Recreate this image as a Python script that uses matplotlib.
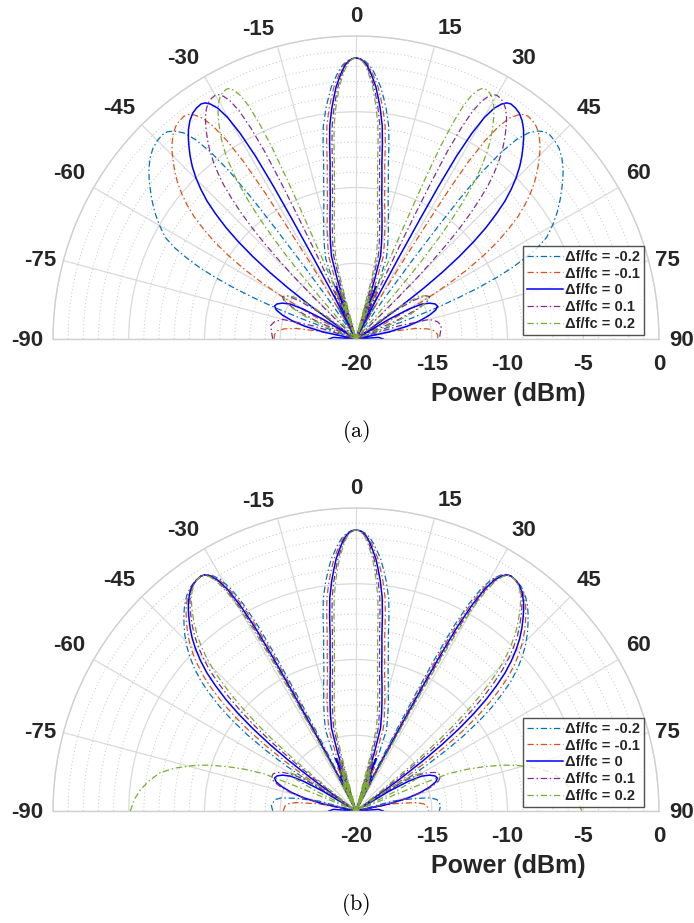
import numpy as np
import matplotlib
matplotlib.use("Agg")
import matplotlib.pyplot as plt
from matplotlib.ticker import MultipleLocator

# ---------------- data (half patterns from 0 to 90 deg, mirrored) ----------------
labels = ["\u0394f/fc = -0.2", "\u0394f/fc = -0.1", "\u0394f/fc = 0",
          "\u0394f/fc = 0.1", "\u0394f/fc = 0.2"]
colors = ["#0072BD", "#D95319", "#0000FF", "#7E2F8E", "#77AC30"]
solid = [False, False, True, False, False]

theta_ticks = list(range(-90, 91, 15))
r_ticks = [-20, -15, -10, -5, 0]

# ---- centre lobe (same in both panels) ----
center_db = [-1.45, -1.5, -1.65, -1.9, -2.3, -2.8, -3.3, -4.0, -4.7, -5.8, -7.0, -8.3, -9.4, -10.5,
             -11.6, -12.6, -13.5, -14.3, -16, -20]
center_ang_m02 = [0, 1.0, 1.88, 2.81, 3.75, 4.69, 5.63, 6.56, 7.5, 8.75, 9.63, 10.5, 11.63, 12.88,
                  14.75, 16.75, 18.75, 20.63, 21.88, 22.75]
center_ang_m01 = [0, 0.89, 1.67, 2.5, 3.33, 4.17, 5.0, 5.83, 6.67, 7.78, 8.56, 9.33, 10.33, 11.44,
                  13.11, 14.89, 16.67, 18.33, 19.44, 20.22]
center_ang_0 = [0, 0.8, 1.5, 2.25, 3.0, 3.75, 4.5, 5.25, 6.0, 7.0, 7.7, 8.4, 9.3, 10.3,
                11.8, 13.4, 15.0, 16.5, 17.5, 18.2]
center_ang_p01 = [0, 0.73, 1.36, 2.05, 2.73, 3.41, 4.09, 4.77, 5.45, 6.36, 7.0, 7.64, 8.45, 9.36,
                  10.73, 12.18, 13.64, 15.0, 15.91, 16.55]
center_ang_p02 = [0, 0.67, 1.25, 1.88, 2.5, 3.13, 3.75, 4.38, 5.0, 5.83, 6.42, 7.0, 7.75, 8.58,
                  9.83, 11.17, 12.5, 13.75, 14.58, 15.17]

# ---- small lobes between the centre lobe and the side lobe ----
a_gap_ang_m02 = [25, 26.5, 28.2, 30, 32]
a_gap_db_m02 = [-20, -16.8, -20, -17.5, -20]
a_gap_ang_m01 = [21.8, 23.3, 24.8, 26.5, 28.2]
a_gap_db_m01 = [-20, -16.5, -20, -17.5, -20]
a_gap_ang_0 = [19.5, 20.8, 22.2, 23.8, 25.3]
a_gap_db_0 = [-20, -16.3, -20, -17.5, -20]
a_gap_ang_p01 = [17.6, 18.8, 20, 21.4, 22.8]
a_gap_db_p01 = [-20, -16.5, -20, -17.5, -20]
a_gap_ang_p02 = [16.1, 17.2, 18.3, 19.6, 20.8]
a_gap_db_p02 = [-20, -16.5, -20, -17.5, -20]

b_gap_ang_m02 = [23.9, 24.5]
b_gap_db_m02 = [-17.8, -20]
b_gap_ang_m01 = [21.5, 22.7, 24, 24.9]
b_gap_db_m01 = [-20, -16.8, -20, -18]
b_gap_ang_0 = a_gap_ang_0
b_gap_db_0 = a_gap_db_0
b_gap_ang_p01 = [17.6, 18.8, 20, 21.4, 22.8, 24.3, 25.8]
b_gap_db_p01 = [-20, -16.5, -20, -17.2, -20, -17.8, -20]
b_gap_ang_p02 = [16.1, 17.2, 18.3, 19.6, 20.8, 22.2, 23.6, 25, 26.3]
b_gap_db_p02 = [-20, -16.5, -20, -17, -20, -17.5, -20, -18, -20]

# ---- main side lobe: level profile shared, angles per series ----
side_db = [-20, -17, -14, -11, -8.5, -6.2, -4.4, -3.1, -2.25, -1.75, -1.5, -1.42,
           -1.47, -1.61, -1.9, -2.31, -2.75, -3.2, -3.7, -4.3, -5.0, -5.75, -6.6, -7.6,
           -8.7, -9.9, -11.3, -12.8, -14.4, -16.2, -18, -20]

# panel (a): beams squint with frequency
a_side_m02 = [33.9, 34.71, 35.52, 36.07, 36.48, 37.03, 37.86, 38.82, 39.93, 41.21, 42.34, 43.48,
              45.05, 46.77, 48.66, 50.61, 52.33, 53.94, 55.74, 57.78, 59.92, 61.98, 63.3, 64.4,
              65.5, 66.4, 67.3, 68.1, 68.9, 69.5, 70.0, 70.5]
a_side_m01 = [29.72, 30.41, 31.09, 31.56, 31.9, 32.36, 33.05, 33.86, 34.79, 35.85, 36.78, 37.71,
              38.97, 40.37, 41.86, 43.37, 44.69, 45.89, 47.22, 48.67, 50.14, 51.53, 52.92, 54.23,
              55.55, 56.76, 58.01, 59.16, 60.19, 61.12, 61.91, 62.61]
a_side_0 = [26.5, 27.1, 27.7, 28.1, 28.4, 28.8, 29.4, 30.1, 30.9, 31.8, 32.6, 33.4,
            34.6, 35.9, 37.3, 38.7, 39.9, 41.0, 42.2, 43.5, 44.8, 46.0, 47.2, 48.3,
            49.4, 50.4, 51.4, 52.3, 53.1, 53.8, 54.4, 54.9]
a_side_p01 = [23.93, 24.47, 24.99, 25.35, 25.62, 25.98, 26.51, 27.12, 27.83, 28.63, 29.33, 30.03,
              30.98, 32.0, 33.09, 34.18, 35.11, 35.96, 36.87, 37.87, 38.85, 39.76, 40.66, 41.48,
              42.29, 43.03, 43.76, 44.4, 44.98, 45.47, 45.9, 46.25]
a_side_p02 = [21.83, 22.31, 22.79, 23.11, 23.35, 23.67, 24.15, 24.7, 25.33, 26.05, 26.68, 27.31,
              28.15, 29.06, 30.03, 30.99, 31.81, 32.57, 33.37, 34.24, 35.1, 35.88, 36.65, 37.36,
              38.07, 38.69, 39.31, 39.86, 40.34, 40.77, 41.13, 41.41]

# panel (b): beams keep their direction, only the width changes
b_side_m02 = [25.12, 25.84, 26.56, 27.04, 27.4, 27.88, 28.6, 29.44, 30.4, 31.48, 32.44, 33.4,
              34.84, 36.4, 38.08, 39.76, 41.2, 42.52, 43.96, 45.52, 47.08, 48.52, 49.96, 51.28,
              52.6, 53.8, 55.0, 56.08, 57.04, 57.88, 58.6, 59.2]
b_side_m01 = [25.81, 26.47, 27.13, 27.57, 27.9, 28.34, 29.0, 29.77, 30.65, 31.64, 32.52, 33.4,
              34.72, 36.15, 37.69, 39.23, 40.55, 41.76, 43.08, 44.51, 45.94, 47.26, 48.58, 49.79,
              51.0, 52.1, 53.2, 54.19, 55.07, 55.84, 56.5, 57.05]
b_side_0 = a_side_0
b_side_p01 = [27.05, 27.6, 28.16, 28.52, 28.8, 29.17, 29.72, 30.36, 31.1, 31.93, 32.66, 33.4,
              34.5, 35.7, 36.99, 38.28, 39.38, 40.39, 41.5, 42.69, 43.89, 44.99, 46.1, 47.11,
              48.12, 49.04, 49.96, 50.79, 51.52, 52.17, 52.72, 53.18]
b_side_p02 = [27.53, 28.04, 28.55, 28.89, 29.15, 29.49, 30.0, 30.59, 31.27, 32.04, 32.72, 33.4,
              34.42, 35.53, 36.72, 37.91, 38.93, 39.86, 40.88, 41.99, 43.09, 44.11, 45.13, 46.07,
              47.0, 47.85, 48.7, 49.47, 50.15, 50.74, 51.25, 51.68]

# ---- low lobes towards end-fire ----
a_tail_ang_m02 = []
a_tail_db_m02 = []
a_tail_ang_m01 = [76, 78, 80, 82, 84, 87, 90]
a_tail_db_m01 = [-20, -17.5, -16, -15.2, -14.8, -14.6, -14.6]
a_tail_ang_0 = [57.5, 59, 60.5, 62, 64, 66, 68, 70, 72, 74, 76, 78, 79.5, 83, 86, 90]
a_tail_db_0 = [-20, -17.5, -16, -15.1, -14.6, -14.3, -14.2, -14.4, -14.9, -15.6, -16.5, -17.8, -20,
               -20, -18.5, -18.2]
a_tail_ang_p01 = [52, 54, 56, 58, 60, 62, 64, 65.5, 67, 71, 73, 75, 78, 81, 85, 90]
a_tail_db_p01 = [-20, -17, -15.5, -14.6, -14.4, -14.6, -15.5, -17, -20, -20, -17, -15, -14.5, -14.3,
                 -14.4, -14.5]
a_tail_ang_p02 = [50, 52, 54, 56, 58, 60, 62, 64, 66, 67.5, 69]
a_tail_db_p02 = [-20, -17.5, -16, -15, -14.6, -14.5, -14.7, -15.3, -16.3, -17.8, -20]

b_tail_ang_m02 = [72, 75, 78, 80, 82, 86, 90]
b_tail_db_m02 = [-20, -17.5, -16, -15, -14.6, -14.4, -14.5]
b_tail_ang_m01 = [76, 79, 82, 84, 86, 90]
b_tail_db_m01 = [-20, -17.5, -16, -15.5, -15.3, -15.2]
b_tail_ang_0 = a_tail_ang_0
b_tail_db_0 = a_tail_db_0
b_tail_ang_p01 = [55.5, 57, 58.5, 60, 62, 64, 66, 68, 70, 72, 74, 76, 77.5, 79]
b_tail_db_p01 = [-20, -17.5, -16, -15.2, -14.6, -14.2, -14.0, -14.0, -14.2, -14.7, -15.4, -16.4, -17.8, -20]
b_tail_ang_p02 = [54, 56, 58, 60, 62, 63.5, 65, 67, 67.3, 67.7, 68, 69.5, 71, 72.7, 74.4, 76.7, 79,
                  81.7, 84.4, 87, 90]
b_tail_db_p02 = [-20, -17, -15.6, -15, -15.4, -17, -20, -20, -17, -15, -13.4, -12.1, -11, -9.8, -8.85,
                 -7.7, -6.8, -6.2, -5.7, -5.35, -5.1]

center_angs = [center_ang_m02, center_ang_m01, center_ang_0, center_ang_p01, center_ang_p02]
a_gap_angs = [a_gap_ang_m02, a_gap_ang_m01, a_gap_ang_0, a_gap_ang_p01, a_gap_ang_p02]
a_gap_dbs = [a_gap_db_m02, a_gap_db_m01, a_gap_db_0, a_gap_db_p01, a_gap_db_p02]
b_gap_angs = [b_gap_ang_m02, b_gap_ang_m01, b_gap_ang_0, b_gap_ang_p01, b_gap_ang_p02]
b_gap_dbs = [b_gap_db_m02, b_gap_db_m01, b_gap_db_0, b_gap_db_p01, b_gap_db_p02]
a_sides = [a_side_m02, a_side_m01, a_side_0, a_side_p01, a_side_p02]
b_sides = [b_side_m02, b_side_m01, b_side_0, b_side_p01, b_side_p02]
a_tail_angs = [a_tail_ang_m02, a_tail_ang_m01, a_tail_ang_0, a_tail_ang_p01, a_tail_ang_p02]
a_tail_dbs = [a_tail_db_m02, a_tail_db_m01, a_tail_db_0, a_tail_db_p01, a_tail_db_p02]
b_tail_angs = [b_tail_ang_m02, b_tail_ang_m01, b_tail_ang_0, b_tail_ang_p01, b_tail_ang_p02]
b_tail_dbs = [b_tail_db_m02, b_tail_db_m01, b_tail_db_0, b_tail_db_p01, b_tail_db_p02]


def full_pattern(ang_half, db_half):
    a = np.asarray(ang_half, float)
    d = np.asarray(db_half, float)
    th = np.concatenate([-a[::-1], a[1:]])
    r = np.concatenate([d[::-1], d[1:]])
    return np.deg2rad(th), np.maximum(r, -20)


# ---------------- figure ----------------
plt.rcParams['font.family'] = ['Liberation Sans', 'DejaVu Sans']
plt.rcParams['mathtext.fontset'] = 'cm'

W, H = 694, 923
fig = plt.figure(figsize=(W / 100, H / 100), dpi=100)
CX, RAD = 356, 303
PX = 0.72  # points per pixel

GRID = '#dadada'
DASH = (5, 2.2, 1.2, 2.2)

theta_label_off = {0: (0, 21), 15: (16, 20), -15: (-19, 19), 30: (16.5, 20), -30: (-21.5, 20),
                   45: (19, 18), -45: (-23, 18), 60: (20, 16), -60: (-24, 15.5),
                   75: (19, 2), -75: (-23, 2), 90: (23, 0), -90: (-26, 0)}


def make_panel(cy, curves, tag):
    box_cy = cy - RAD / 2
    ax = fig.add_axes([(CX - RAD) / W, (H - box_cy - RAD) / H, 2 * RAD / W, 2 * RAD / H],
                      projection='polar')
    ax.set_theta_zero_location('N')
    ax.set_theta_direction(-1)
    ax.set_thetamin(-90)
    ax.set_thetamax(90)
    ax.set_rlim(-20, 0)
    ax.set_xticks(np.deg2rad(theta_ticks))
    ax.set_yticks(r_ticks)
    ax.yaxis.set_minor_locator(MultipleLocator(1))
    ax.set_xticklabels([])
    ax.set_yticklabels([])
    ax.tick_params(which='both', length=0)
    ax.xaxis.grid(True, color=GRID, lw=0.9)
    ax.yaxis.grid(True, which='major', color=GRID, lw=0.9)
    ax.yaxis.grid(True, which='minor', color='#c4c4c4', lw=0.7, ls=(0, (1, 2.6)))
    for s in ['polar', 'start', 'end']:
        ax.spines[s].set_color('#cfcfcf')
        ax.spines[s].set_linewidth(1.0)
    ax.spines['inner'].set_visible(False)

    handles = []
    for i, (th, r) in enumerate(curves):
        if solid[i]:
            ln, = ax.plot(th, r, color=colors[i], lw=1.1, label=labels[i])
        else:
            ln, = ax.plot(th, r, color=colors[i], lw=0.9, dashes=DASH, label=labels[i])
        handles.append(ln)

    for t in theta_ticks:
        dx, dy = theta_label_off[t]
        ax.annotate(str(t), xy=(np.deg2rad(t), 0), xytext=(dx * PX, (dy - 7.5) * PX),
                    textcoords='offset points', ha='center', va='baseline',
                    fontsize=16, fontweight='bold', color='#262626', annotation_clip=False)
    for rv in r_ticks:
        ax.annotate(str(rv), xy=(np.pi / 2, rv), xytext=(0, -30.5 * PX),
                    textcoords='offset points', ha='center', va='baseline',
                    fontsize=16, fontweight='bold', color='#262626', annotation_clip=False)

    fig.text(508 / W, 1 - (cy + 62) / H, 'Power (dBm)', ha='center', va='baseline',
             fontsize=18, fontweight='bold', color='#262626')
    fig.text(CX / W, 1 - (cy + 93) / H, tag, ha='center', va='center', fontsize=16)

    leg = ax.legend(handles=handles, loc='upper left',
                    bbox_to_anchor=(523 / W, 1 - (cy - 93) / H), bbox_transform=fig.transFigure,
                    prop={'size': 10.5, 'weight': 'bold'}, frameon=True, fancybox=False,
                    borderpad=0.25, labelspacing=0.2, handlelength=2.5, handletextpad=0.15,
                    borderaxespad=0)
    leg.get_frame().set_edgecolor('#262626')
    leg.get_frame().set_linewidth(1.0)
    for txt in leg.get_texts():
        txt.set_color('#262626')
    return ax


curves_a = []
curves_b = []
for i in range(5):
    curves_a.append(full_pattern(center_angs[i] + a_gap_angs[i] + a_sides[i] + a_tail_angs[i],
                                 center_db + a_gap_dbs[i] + side_db + a_tail_dbs[i]))
    curves_b.append(full_pattern(center_angs[i] + b_gap_angs[i] + b_sides[i] + b_tail_angs[i],
                                 center_db + b_gap_dbs[i] + side_db + b_tail_dbs[i]))

make_panel(339, curves_a, r'$\mathrm{(a)}$')
make_panel(811, curves_b, r'$\mathrm{(b)}$')

fig.savefig('out.png', dpi=100)
